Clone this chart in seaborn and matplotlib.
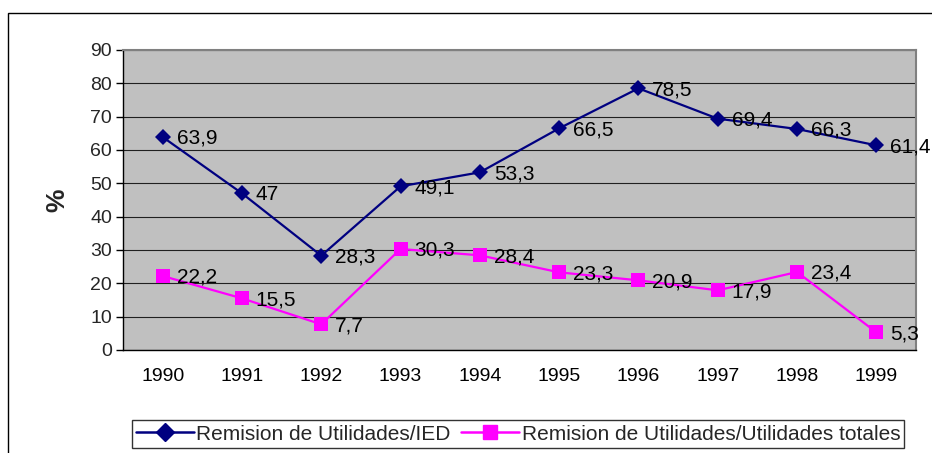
import matplotlib
matplotlib.use("Agg")
import matplotlib.pyplot as plt
import seaborn as sns
import pandas as pd
import numpy as np
from matplotlib.patches import Rectangle
from matplotlib.lines import Line2D

years = ["1990", "1991", "1992", "1993", "1994", "1995", "1996", "1997", "1998", "1999"]
ied = [63.9, 47, 28.3, 49.1, 53.3, 66.5, 78.5, 69.4, 66.3, 61.4]
totales = [22.2, 15.5, 7.7, 30.3, 28.4, 23.3, 20.9, 17.9, 23.4, 5.3]
ied_labels = ["63,9", "47", "28,3", "49,1", "53,3", "66,5", "78,5", "69,4", "66,3", "61,4"]
tot_labels = ["22,2", "15,5", "7,7", "30,3", "28,4", "23,3", "20,9", "17,9", "23,4", "5,3"]
name_ied = "Remision de Utilidades/IED"
name_tot = "Remision de Utilidades/Utilidades totales"

sns.set_theme(style="white")
plt.rcParams['font.family'] = ['Liberation Sans', 'DejaVu Sans']

fig = plt.figure(figsize=(9.32, 4.53), dpi=100)
fig.patches.append(Rectangle((8/932, 1 - 460/453), 940/932, 447/453, transform=fig.transFigure,
                             fill=False, edgecolor="black", linewidth=1.0))
ax = fig.add_axes([123/932, 1 - 350/453, (916-123)/932, 300/453])
ax.set_facecolor("#c0c0c0")

x = np.arange(len(years))
df = pd.DataFrame({"x": np.concatenate([x, x]),
                   "v": ied + totales,
                   "s": [name_ied]*len(years) + [name_tot]*len(years)})
sns.lineplot(data=df, x="x", y="v", hue="s", style="s",
             palette={name_ied: "#000080", name_tot: "#ff00ff"},
             markers={name_ied: "D", name_tot: "s"}, dashes=False,
             markersize=8, linewidth=1.6, markeredgewidth=0, ax=ax, legend=False)
lines = ax.get_lines()
if len(lines) >= 2:
    lines[0].set_markersize(8)
    lines[1].set_markersize(9.5)

FS = 14
LFS = 15
for xi, v, t in zip(x, ied, ied_labels):
    ax.annotate(t, (xi, v), xytext=(10, -1), textcoords="offset points",
                ha="left", va="center", fontsize=LFS, color="black", annotation_clip=False)
for xi, v, t in zip(x, totales, tot_labels):
    ax.annotate(t, (xi, v), xytext=(10, -1), textcoords="offset points",
                ha="left", va="center", fontsize=LFS, color="black", annotation_clip=False)

ax.set_xlim(-0.5, len(years) - 0.5)
ax.set_ylim(0, 90)
ax.set_yticks(range(0, 91, 10))
ax.set_xticks(x)
ax.set_xticklabels(years)
ax.set_xticks(np.arange(-0.5, len(years), 1.0), minor=True)
ax.tick_params(axis="x", which="major", length=0, labelsize=FS, pad=13, colors="black")
ax.tick_params(axis="x", which="minor", length=5, width=1, color="black", direction="out")
ax.tick_params(axis="y", length=5, width=1, color="black", direction="out", labelsize=FS, pad=3, left=True)
ax.grid(axis="y", color="#202020", linewidth=0.8)
ax.set_axisbelow(True)
ax.set_xlabel("")
ax.set_ylabel("%", fontsize=19, fontweight="bold", labelpad=15)
for s in ["left", "bottom"]:
    ax.spines[s].set_color("black")
    ax.spines[s].set_linewidth(1)
for s in ["top", "right"]:
    ax.spines[s].set_color("#808080")
    ax.spines[s].set_linewidth(1.5)

handles = [Line2D([], [], color="#000080", marker="D", markersize=9, linewidth=1.8),
           Line2D([], [], color="#ff00ff", marker="s", markersize=10, linewidth=1.8)]
leg = fig.legend(handles, [name_ied, name_tot], loc="center", bbox_to_anchor=(518/932, 1 - 434/453),
                 ncol=2, frameon=True, fontsize=LFS, handlelength=2.8, handletextpad=0.1,
                 columnspacing=0.5, borderpad=0.2, borderaxespad=0, fancybox=False, edgecolor="black")
leg.get_frame().set_linewidth(1)

fig.savefig("out.png", dpi=100)
